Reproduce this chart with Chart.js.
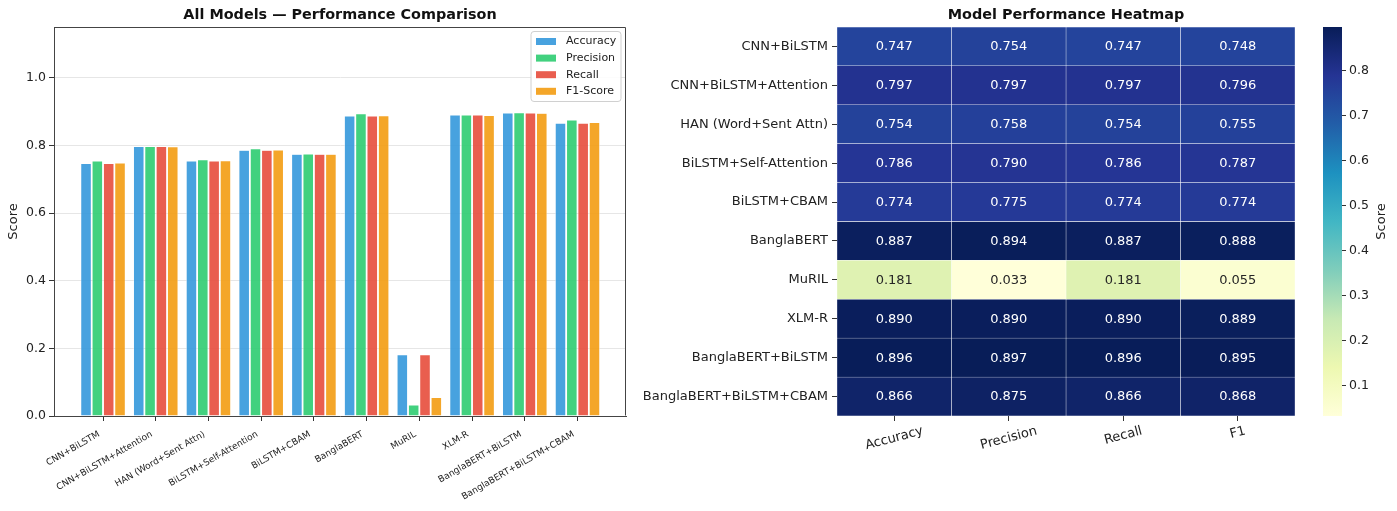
<!DOCTYPE html>
<html>
<head>
<meta charset="utf-8">
<title>Model Performance</title>
<script src="https://cdn.jsdelivr.net/npm/chart.js@4.4.1/dist/chart.umd.min.js"></script>
<style>
  html, body { margin: 0; padding: 0; background: #fff; }
  #wrap { position: relative; width: 1397px; height: 511px; overflow: hidden; background: #fff; }
  #wrap canvas { position: absolute; top: 0; }
</style>
</head>
<body>
<div id="wrap">
  <canvas id="bars" width="640" height="511" style="left:0"></canvas>
  <canvas id="heat" width="680" height="511" style="left:630px"></canvas>
  <canvas id="cbar" width="87" height="511" style="left:1310px"></canvas>
</div>
<script>
// ---- data ----
const models = [
  'CNN+BiLSTM', 'CNN+BiLSTM+Attention', 'HAN (Word+Sent Attn)', 'BiLSTM+Self-Attention',
  'BiLSTM+CBAM', 'BanglaBERT', 'MuRIL', 'XLM-R', 'BanglaBERT+BiLSTM', 'BanglaBERT+BiLSTM+CBAM'
];
const legendNames = ['Accuracy', 'Precision', 'Recall', 'F1-Score'];
const heatColumns = ['Accuracy', 'Precision', 'Recall', 'F1'];

const accuracy  = [0.747, 0.797, 0.754, 0.786, 0.774, 0.887, 0.181, 0.890, 0.896, 0.866];
const precision = [0.754, 0.797, 0.758, 0.790, 0.775, 0.894, 0.033, 0.890, 0.897, 0.875];
const recall    = [0.747, 0.797, 0.754, 0.786, 0.774, 0.887, 0.181, 0.890, 0.896, 0.866];
const f1        = [0.748, 0.796, 0.755, 0.787, 0.774, 0.888, 0.055, 0.889, 0.895, 0.868];

const scoreTicks = [0.0, 0.2, 0.4, 0.6, 0.8, 1.0];
const colorbarTicks = [0.1, 0.2, 0.3, 0.4, 0.5, 0.6, 0.7, 0.8];

// ---- styling ----
const FONT = "'DejaVu Sans', 'Liberation Sans', sans-serif";
Chart.defaults.font.family = FONT;
Chart.defaults.color = '#222';
Chart.defaults.animation = false;
Chart.defaults.responsive = false;
Chart.defaults.plugins.legend.display = false;
Chart.defaults.plugins.tooltip.enabled = false;

const series = [accuracy, precision, recall, f1];
const seriesColors = [
  'rgba(52,152,219,0.9)', 'rgba(46,204,113,0.9)', 'rgba(231,76,60,0.9)', 'rgba(243,156,18,0.9)'
];

// YlGnBu colormap stops
const ylgnbu = ['#ffffd9', '#edf8b1', '#c7e9b4', '#7fcdbb', '#41b6c4', '#1d91c0', '#225ea8', '#253494', '#081d58'];
const hexRgb = h => [1, 3, 5].map(i => parseInt(h.substr(i, 2), 16));
function cmap(t) {
  t = Math.max(0, Math.min(1, t));
  const p = t * (ylgnbu.length - 1);
  const i = Math.min(Math.floor(p), ylgnbu.length - 2);
  const f = p - i;
  const a = hexRgb(ylgnbu[i]), b = hexRgb(ylgnbu[i + 1]);
  return a.map((c, k) => Math.round(c + (b[k] - c) * f));
}
function luminance(rgb) {
  const lin = c => { c /= 255; return c <= 0.03928 ? c / 12.92 : Math.pow((c + 0.055) / 1.055, 2.4); };
  return 0.2126 * lin(rgb[0]) + 0.7152 * lin(rgb[1]) + 0.0722 * lin(rgb[2]);
}
const allScores = series.flat();
const vmin = Math.min(...allScores);
const vmax = Math.max(...allScores);
const cellRgb = v => cmap((v - vmin) / (vmax - vmin));
const rgbStr = c => `rgb(${c[0]},${c[1]},${c[2]})`;

// ---- shared plugins ----
const panelTitle = {
  id: 'panelTitle',
  afterDraw(chart, args, opts) {
    const { ctx, chartArea } = chart;
    ctx.save();
    ctx.font = `bold 14.4px ${FONT}`;
    ctx.fillStyle = '#111';
    ctx.textAlign = 'center';
    ctx.textBaseline = 'middle';
    ctx.fillText(opts.text, (chartArea.left + chartArea.right) / 2, opts.y);
    ctx.restore();
  }
};

// top and right spines of the bar panel
const boxFrame = {
  id: 'boxFrame',
  afterDraw(chart) {
    const { ctx, chartArea: a } = chart;
    const l = Math.round(a.left) + 0.5, r = Math.round(a.right) - 0.5;
    const t = Math.round(a.top) + 0.5, b = Math.round(a.bottom) - 0.5;
    ctx.save();
    ctx.strokeStyle = '#444';
    ctx.lineWidth = 1;
    ctx.beginPath();
    ctx.moveTo(l, t); ctx.lineTo(r, t); ctx.lineTo(r, b);
    ctx.stroke();
    ctx.restore();
  }
};

// legend box in the upper-right corner of the plot area
const insideLegend = {
  id: 'insideLegend',
  afterDraw(chart) {
    const { ctx, chartArea: a } = chart;
    const w = 90, h = 70, x = a.right - 95, y = a.top + 4.5;
    ctx.save();
    ctx.beginPath();
    ctx.roundRect(x, y, w, h, 3);
    ctx.fillStyle = 'rgba(255,255,255,0.85)';
    ctx.fill();
    ctx.strokeStyle = '#d0d0d0';
    ctx.lineWidth = 1;
    ctx.stroke();
    ctx.font = `11px ${FONT}`;
    ctx.textBaseline = 'middle';
    ctx.textAlign = 'left';
    chart.data.datasets.forEach((ds, k) => {
      const cy = y + 10 + k * 16.6;
      ctx.fillStyle = ds.backgroundColor;
      ctx.fillRect(x + 5, cy - 3.5, 20, 7);
      ctx.fillStyle = '#222';
      ctx.fillText(ds.label, x + 35, cy);
    });
    ctx.restore();
  }
};

// ---- grouped bar chart ----
new Chart(document.getElementById('bars'), {
  type: 'bar',
  data: {
    datasets: series.map((vals, k) => ({
      label: legendNames[k],
      data: vals.map((v, i) => ({ x: i, y: v })),
      backgroundColor: seriesColors[k],
      borderColor: 'rgba(255,255,255,0.9)',
      borderWidth: 0.6,
      borderSkipped: 'bottom',
      categoryPercentage: 0.86,
      barPercentage: 0.95
    }))
  },
  options: {
    layout: { padding: { top: 27, right: 14, left: 0, bottom: 0 } },
    scales: {
      x: {
        type: 'linear',
        min: -0.93,
        max: 9.92,
        offset: false,
        afterBuildTicks: s => { s.ticks = models.map((_, i) => ({ value: i })); },
        afterFit: s => { s.height = 95; },
        ticks: {
          autoSkip: false,
          minRotation: 30,
          maxRotation: 30,
          padding: 8,
          labelOffset: -4,
          font: { size: 9 },
          color: '#222',
          callback: v => models[v]
        },
        grid: { offset: false, drawOnChartArea: false, tickLength: 5, tickColor: '#333' },
        border: { color: '#444', width: 1 }
      },
      y: {
        min: 0,
        max: 1.15,
        afterBuildTicks: s => { s.ticks = scoreTicks.map(v => ({ value: v })); },
        afterFit: s => { s.width = 54; },
        ticks: { font: { size: 12.5 }, padding: 3, color: '#222', callback: v => v.toFixed(1) },
        grid: { color: '#e6e6e6', lineWidth: 1, tickColor: '#333', tickLength: 5 },
        border: { color: '#444', width: 1 },
        title: { display: true, text: 'Score', font: { size: 13 }, color: '#222', padding: { top: 6, bottom: 0 } }
      }
    },
    plugins: {
      panelTitle: { text: 'All Models \u2014 Performance Comparison', y: 15 }
    }
  },
  plugins: [boxFrame, insideLegend, panelTitle]
});

// ---- heatmap (one stacked horizontal bar per model, one unit-wide cell per metric) ----
const heatLabels = {
  id: 'heatLabels',
  afterDraw(chart) {
    const { ctx, chartArea: a } = chart;
    const xs = chart.scales.x;
    ctx.save();
    // cell annotations
    ctx.font = `13px ${FONT}`;
    ctx.textAlign = 'center';
    ctx.textBaseline = 'middle';
    chart.data.datasets.forEach((ds, k) => {
      chart.getDatasetMeta(k).data.forEach((el, i) => {
        const v = ds.scores[i];
        const { x, y, base } = el.getProps(['x', 'y', 'base'], true);
        ctx.fillStyle = luminance(cellRgb(v)) > 0.408 ? '#262626' : '#ffffff';
        ctx.fillText(v.toFixed(3), (x + base) / 2, y + 0.5);
      });
    });
    // column labels, rotated 15 degrees and centred under each tick
    const ang = 15 * Math.PI / 180;
    heatColumns.forEach((name, j) => {
      const cx = xs.getPixelForValue(j + 0.5);
      const w = ctx.measureText(name).width;
      const hBox = w * Math.sin(ang) + 15 * Math.cos(ang);
      const cy = a.bottom + 5 + 2.5 + hBox / 2;
      ctx.save();
      ctx.translate(cx, cy);
      ctx.rotate(-ang);
      ctx.fillStyle = '#222';
      ctx.fillText(name, 0, 0);
      ctx.restore();
    });
    ctx.restore();
  }
};

new Chart(document.getElementById('heat'), {
  type: 'bar',
  data: {
    labels: models,
    datasets: series.map((vals, k) => ({
      label: heatColumns[k],
      scores: vals,
      data: vals.map(() => 1),
      backgroundColor: vals.map(v => rgbStr(cellRgb(v))),
      borderColor: 'rgba(255,255,255,0.85)',
      borderWidth: 0.5,
      borderSkipped: false,
      barPercentage: 1,
      categoryPercentage: 1
    }))
  },
  options: {
    indexAxis: 'y',
    layout: { padding: { top: 27, right: 15, left: 0, bottom: 0 } },
    scales: {
      x: {
        type: 'linear',
        stacked: true,
        min: 0,
        max: heatColumns.length,
        afterBuildTicks: s => { s.ticks = heatColumns.map((_, j) => ({ value: j + 0.5 })); },
        afterFit: s => { s.height = 95; },
        ticks: { callback: () => '' },
        grid: { drawOnChartArea: false, tickLength: 5, tickColor: '#333' },
        border: { display: false }
      },
      y: {
        stacked: true,
        afterFit: s => { s.width = 207; },
        ticks: { font: { size: 13 }, color: '#222', padding: 4, autoSkip: false },
        grid: { offset: false, drawOnChartArea: false, tickLength: 5, tickColor: '#333' },
        border: { display: false }
      }
    },
    plugins: {
      panelTitle: { text: 'Model Performance Heatmap', y: 15 }
    }
  },
  plugins: [heatLabels, panelTitle]
});

// ---- colour bar ----
const cbarLabel = {
  id: 'cbarLabel',
  afterDraw(chart) {
    const { ctx, chartArea: a } = chart;
    ctx.save();
    ctx.font = `13px ${FONT}`;
    ctx.fillStyle = '#222';
    ctx.textAlign = 'center';
    ctx.textBaseline = 'middle';
    ctx.translate(a.right + 40, (a.top + a.bottom) / 2);
    ctx.rotate(-Math.PI / 2);
    ctx.fillText('Score', 0, 0);
    ctx.restore();
  }
};

new Chart(document.getElementById('cbar'), {
  type: 'bar',
  data: {
    labels: ['Score'],
    datasets: [{
      data: [[vmin, vmax]],
      backgroundColor: c => {
        const a = c.chart.chartArea;
        if (!a) return ylgnbu[4];
        const g = c.chart.ctx.createLinearGradient(0, a.bottom, 0, a.top);
        ylgnbu.forEach((col, i) => g.addColorStop(i / (ylgnbu.length - 1), col));
        return g;
      },
      borderWidth: 0,
      barPercentage: 1,
      categoryPercentage: 1
    }]
  },
  options: {
    layout: { padding: { top: 27, bottom: 95, left: 13, right: 0 } },
    scales: {
      x: { display: false },
      y: {
        position: 'right',
        min: vmin,
        max: vmax,
        afterBuildTicks: s => { s.ticks = colorbarTicks.map(v => ({ value: v })); },
        afterFit: s => { s.width = 55; },
        ticks: { font: { size: 12.5 }, color: '#222', padding: 3, callback: v => v.toFixed(1) },
        grid: { drawOnChartArea: false, tickLength: 4, tickColor: '#333' },
        border: { display: false }
      }
    }
  },
  plugins: [cbarLabel]
});
</script>
</body>
</html>
